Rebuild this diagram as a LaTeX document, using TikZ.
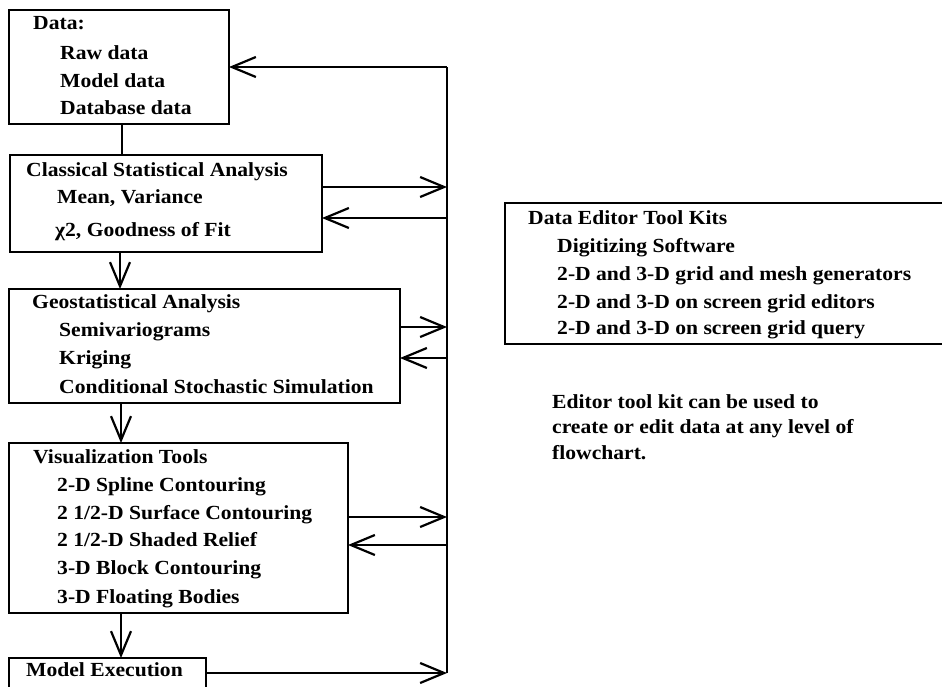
\documentclass[tikz,border=0pt]{standalone}
\usepackage{fontspec}
\setmainfont{Liberation Serif}[FakeStretch=1.08]
\usetikzlibrary{arrows.meta}
\tikzset{
  box/.style={draw, line width=1.9pt, anchor=north west, inner sep=0pt, outer sep=0pt, minimum width=#1},
  txt/.style={anchor=base west, inner sep=0pt, font=\fontsize{20}{24}\selectfont\bfseries},
  conn/.style={line width=1.9pt},
  arr/.style={line width=1.9pt, -{Straight Barb[length=24pt,width=20pt,line width=2.2pt]}},
}
\begin{document}
\begin{tikzpicture}[x=1pt,y=-1pt]
\useasboundingbox (0,0) rectangle (942,686);
\clip (0,0) rectangle (942,686);
% boxes
\node[box=220pt, minimum height=114pt] (data) at (9,10) {};
\node[box=312pt, minimum height=97pt] (cls) at (10,155) {};
\node[box=391pt, minimum height=114pt] (geo) at (9,289) {};
\node[box=339pt, minimum height=170pt] (vis) at (9,443) {};
\node[box=197pt, minimum height=60pt] (mod) at (9,658) {};
\node[box=445pt, minimum height=141pt] (edit) at (505,203) {};
% texts
\node[txt] (t1) at (33,29) {Data:};
\node[txt] (t2) at (60,59) {Raw data};
\node[txt] (t3) at (60,87) {Model data};
\node[txt] (t4) at (60,114) {Database data};
\node[txt] (t5) at (26,176) {Classical Statistical Analysis};
\node[txt] (t6) at (57,203) {Mean, Variance};
\node[txt] (t7) at (55,236) {χ2, Goodness of Fit};
\node[txt] (t8) at (32,308) {Geostatistical Analysis};
\node[txt] (t9) at (59,336) {Semivariograms};
\node[txt] (t10) at (59,364) {Kriging};
\node[txt] (t11) at (59,393) {Conditional Stochastic Simulation};
\node[txt] (t12) at (33,463) {Visualization Tools};
\node[txt] (t13) at (57,491) {2-D Spline Contouring};
\node[txt] (t14) at (57,519) {2 1/2-D Surface Contouring};
\node[txt] (t15) at (57,546) {2 1/2-D Shaded Relief};
\node[txt] (t16) at (57,574) {3-D Block Contouring};
\node[txt] (t17) at (57,603) {3-D Floating Bodies};
\node[txt] (t18) at (26,676) {Model Execution};
\node[txt] (t19) at (528,224) {Data Editor Tool Kits};
\node[txt] (t20) at (557,252) {Digitizing Software};
\node[txt] (t21) at (557,280) {2-D and 3-D grid and mesh generators};
\node[txt] (t22) at (557,308) {2-D and 3-D on screen grid editors};
\node[txt] (t23) at (557,334) {2-D and 3-D on screen grid query};
\node[txt] (t24) at (552,408) {Editor tool kit can be used to};
\node[txt] (t25) at (552,433) {create or edit data at any level of};
\node[txt] (t26) at (552,459) {flowchart.};
% bus coordinates
\coordinate (btop) at (447,67);
\coordinate (b1) at (447,187);
\coordinate (b2) at (447,218);
\coordinate (b3) at (447,327);
\coordinate (b4) at (447,358);
\coordinate (b5) at (447,517);
\coordinate (b6) at (447,545);
\coordinate (b7) at (447,673);
\draw[conn] (btop) -- (b7);
\draw[arr] (btop) -- (data.east |- btop);
\draw[arr] (cls.east |- b1) -- (b1);
\draw[arr] (b2) -- (cls.east |- b2);
\draw[arr] (geo.east |- b3) -- (b3);
\draw[arr] (b4) -- (geo.east |- b4);
\draw[arr] (vis.east |- b5) -- (b5);
\draw[arr] (b6) -- (vis.east |- b6);
\draw[arr] (mod.east |- b7) -- (b7);
% vertical links
\coordinate (x1) at (122,0);
\draw[conn] (data.south -| x1) -- (cls.north -| x1);
\coordinate (x2) at (120,0);
\draw[arr] (cls.south -| x2) -- (geo.north -| x2);
\coordinate (x3) at (121,0);
\draw[arr] (geo.south -| x3) -- (vis.north -| x3);
\draw[arr] (vis.south -| x3) -- (mod.north -| x3);
\end{tikzpicture}
\end{document}
